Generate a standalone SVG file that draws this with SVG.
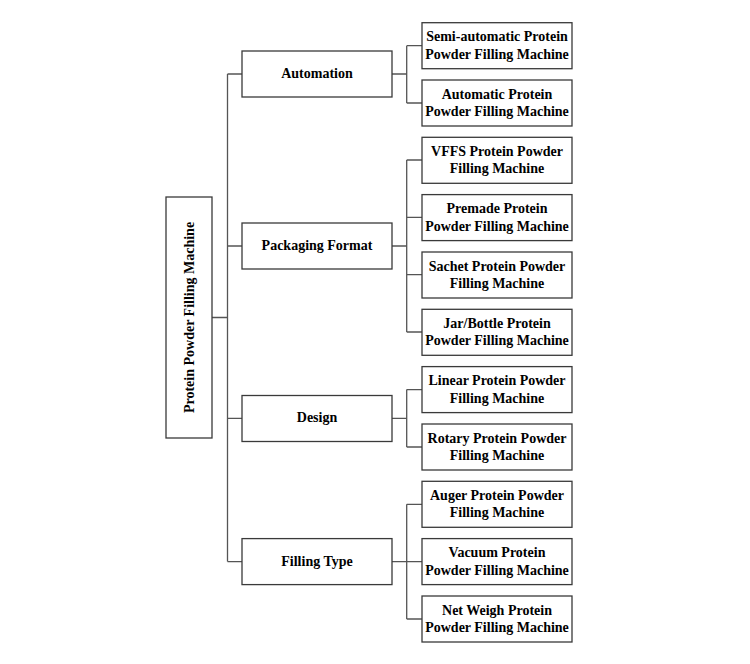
<svg xmlns="http://www.w3.org/2000/svg" width="750" height="664" viewBox="0 0 750 664">
<style>
.box{fill:#fff;stroke:#3a3a3a;stroke-width:1.3}
.t{font-family:"Liberation Serif","Times New Roman",serif;font-weight:bold;font-size:14px;fill:#000;text-anchor:middle}
.c{fill:none;stroke:#555;stroke-width:1.3}
</style>
<rect width="750" height="664" fill="#fff"/>
<g id="connectors">
<path class="c" d="M212 317.5H227.5M227.5 74V561.6M227.5 74H242M227.5 246H242M227.5 418.3H242M227.5 561.6H242"/>
<path class="c" d="M392 74H406.7M406.7 45.7V103M406.7 45.7H422M406.7 103H422"/>
<path class="c" d="M392 246H406.7M406.7 160V332M406.7 160H422M406.7 217.3H422M406.7 274.6H422M406.7 332H422"/>
<path class="c" d="M392 418.3H406.7M406.7 389.6V447M406.7 389.6H422M406.7 447H422"/>
<path class="c" d="M392 561.6H406.7M406.7 504.3V619M406.7 504.3H422M406.7 561.6H422M406.7 619H422"/>
</g>
<g id="root"><rect class="box" x="166" y="197" width="46" height="241"/><text class="t" transform="translate(194 317.5) rotate(-90)" x="0" y="0">Protein Powder Filling Machine</text></g>
<g id="automation"><rect class="box" x="242" y="51" width="150" height="46"/><text class="t" x="317" y="78">Automation</text></g>
<g id="packaging"><rect class="box" x="242" y="223" width="150" height="46"/><text class="t" x="317" y="250">Packaging Format</text></g>
<g id="design"><rect class="box" x="242" y="395.5" width="150" height="46"/><text class="t" x="317" y="422.3">Design</text></g>
<g id="filling"><rect class="box" x="242" y="538.6" width="150" height="46"/><text class="t" x="317" y="565.6">Filling Type</text></g>
<g id="semi"><rect class="box" x="422" y="22.7" width="150" height="46"/><text class="t" x="497" y="41.2">Semi-automatic Protein</text><text class="t" x="497" y="58.7">Powder Filling Machine</text></g>
<g id="automatic"><rect class="box" x="422" y="80" width="150" height="46"/><text class="t" x="497" y="98.5">Automatic Protein</text><text class="t" x="497" y="116">Powder Filling Machine</text></g>
<g id="vffs"><rect class="box" x="422" y="137.3" width="150" height="46"/><text class="t" x="497" y="155.8">VFFS Protein Powder</text><text class="t" x="497" y="173.3">Filling Machine</text></g>
<g id="premade"><rect class="box" x="422" y="194.6" width="150" height="46"/><text class="t" x="497" y="213.1">Premade Protein</text><text class="t" x="497" y="230.6">Powder Filling Machine</text></g>
<g id="sachet"><rect class="box" x="422" y="252" width="150" height="46"/><text class="t" x="497" y="270.5">Sachet Protein Powder</text><text class="t" x="497" y="288">Filling Machine</text></g>
<g id="jar"><rect class="box" x="422" y="309.3" width="150" height="46"/><text class="t" x="497" y="327.8">Jar/Bottle Protein</text><text class="t" x="497" y="345.3">Powder Filling Machine</text></g>
<g id="linear"><rect class="box" x="422" y="366.6" width="150" height="46"/><text class="t" x="497" y="385.1">Linear Protein Powder</text><text class="t" x="497" y="402.6">Filling Machine</text></g>
<g id="rotary"><rect class="box" x="422" y="424" width="150" height="46"/><text class="t" x="497" y="442.5">Rotary Protein Powder</text><text class="t" x="497" y="460">Filling Machine</text></g>
<g id="auger"><rect class="box" x="422" y="481.3" width="150" height="46"/><text class="t" x="497" y="499.8">Auger Protein Powder</text><text class="t" x="497" y="517.3">Filling Machine</text></g>
<g id="vacuum"><rect class="box" x="422" y="538.6" width="150" height="46"/><text class="t" x="497" y="557.1">Vacuum Protein</text><text class="t" x="497" y="574.6">Powder Filling Machine</text></g>
<g id="netweigh"><rect class="box" x="422" y="596" width="150" height="46"/><text class="t" x="497" y="614.5">Net Weigh Protein</text><text class="t" x="497" y="632">Powder Filling Machine</text></g>
</svg>
